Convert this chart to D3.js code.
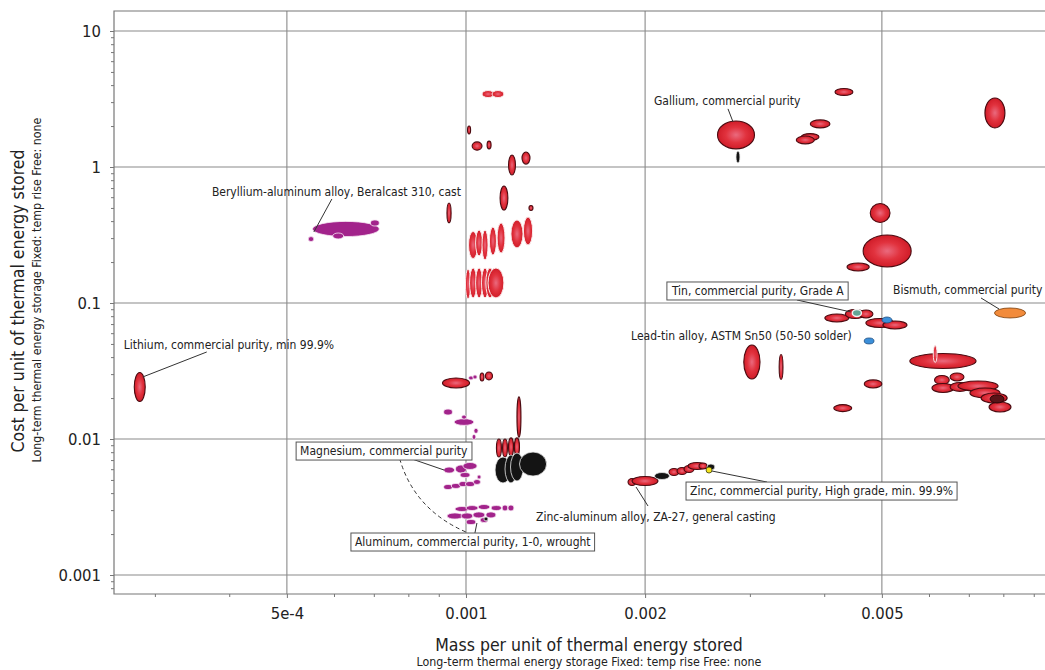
<!DOCTYPE html>
<html>
<head>
<meta charset="utf-8">
<script src="https://cdn.jsdelivr.net/npm/d3@7"></script>
<style>
  body { margin: 0; background: #fff; }
  svg { display: block; }
  text { font-family: "DejaVu Sans Condensed", "DejaVu Sans", sans-serif; fill: #222; }
</style>
</head>
<body>
<svg id="chart" width="1045" height="670"></svg>
<script>
// Each material: [mass low, mass high, cost low, cost high]
// mass in kg per unit of energy stored, cost per unit of energy stored

// Named materials that carry a label
const lithium   = [2.77e-4, 2.89e-4, 0.0189, 0.0308];
const beralcast = [5.52e-4, 7.15e-4, 0.308, 0.398];
const gallium   = [2.647e-3, 3.054e-3, 1.36, 2.18];
const tinGradeA = [4.46e-3, 4.62e-3, 0.0796, 0.0896];
const bismuth   = [7.73e-3, 8.72e-3, 0.0776, 0.0919];
const leadTin   = [4.67e-3, 4.85e-3, 0.0500, 0.0553];
const magnesium = [9.17e-4, 9.57e-4, 0.00562, 0.00622];
const aluminum  = [1.000e-3, 1.039e-3, 0.00235, 0.00256];
const za27      = [1.872e-3, 1.931e-3, 0.00455, 0.00512];
const zinc      = [2.532e-3, 2.591e-3, 0.00562, 0.00622];

// Non-ferrous metals drawn in red
const nonferrous = [
  lithium,
  [1.006e-3, 1.018e-3, 1.75, 2.00],
  [1.024e-3, 1.064e-3, 1.33, 1.53],
  [1.085e-3, 1.102e-3, 1.36, 1.55],
  [1.179e-3, 1.211e-3, 0.873, 1.225],
  [1.242e-3, 1.281e-3, 1.05, 1.29],
  [1.141e-3, 1.176e-3, 0.483, 0.725],
  [1.276e-3, 1.296e-3, 0.479, 0.521],
  [9.29e-4, 9.44e-4, 0.388, 0.544],
  [9.13e-4, 1.014e-3, 0.0237, 0.0281],
  [1.056e-3, 1.072e-3, 0.0267, 0.0306],
  [1.078e-3, 1.108e-3, 0.0272, 0.0311],
  [1.218e-3, 1.237e-3, 0.0103, 0.0204],
  [1.125e-3, 1.147e-3, 0.00737, 0.0100],
  [1.152e-3, 1.174e-3, 0.00737, 0.0100],
  [1.179e-3, 1.202e-3, 0.0075, 0.0102],
  [1.206e-3, 1.230e-3, 0.0075, 0.0102],
  za27,
  [1.901e-3, 2.102e-3, 0.00455, 0.00530],
  [2.194e-3, 2.280e-3, 0.00539, 0.00607],
  [2.263e-3, 2.352e-3, 0.00548, 0.00617],
  [2.325e-3, 2.417e-3, 0.00567, 0.00638],
  [2.361e-3, 2.532e-3, 0.00597, 0.00672],
  [2.464e-3, 2.541e-3, 0.00602, 0.00666],
  gallium,
  [4.17e-3, 4.47e-3, 3.36, 3.78],
  [3.79e-3, 4.09e-3, 1.94, 2.22],
  [3.66e-3, 3.92e-3, 1.57, 1.76],
  [3.59e-3, 3.85e-3, 1.48, 1.69],
  [7.45e-3, 8.05e-3, 1.94, 3.22],
  [4.78e-3, 5.16e-3, 0.391, 0.539],
  [4.65e-3, 5.60e-3, 0.184, 0.316],
  [4.37e-3, 4.76e-3, 0.172, 0.197],
  [4.01e-3, 4.40e-3, 0.0725, 0.0830],
  [4.34e-3, 4.68e-3, 0.0769, 0.0896],
  [4.58e-3, 4.83e-3, 0.0776, 0.0888],
  [4.70e-3, 5.24e-3, 0.0661, 0.0769],
  [5.02e-3, 5.51e-3, 0.0644, 0.0738],
  [5.57e-3, 7.20e-3, 0.0330, 0.0425],
  [2.93e-3, 3.12e-3, 0.0276, 0.0491],
  [3.36e-3, 3.41e-3, 0.0274, 0.0418],
  [4.67e-3, 5.00e-3, 0.0237, 0.0272],
  [4.15e-3, 4.45e-3, 0.0159, 0.0179],
  [6.13e-3, 6.49e-3, 0.0252, 0.0293],
  [6.51e-3, 6.87e-3, 0.0267, 0.0306],
  [6.07e-3, 6.61e-3, 0.0220, 0.0256],
  [6.51e-3, 7.03e-3, 0.0224, 0.0260],
  [6.71e-3, 7.84e-3, 0.0225, 0.0267],
  [7.03e-3, 7.90e-3, 0.0200, 0.0237],
  [7.34e-3, 8.12e-3, 0.0184, 0.0218],
  [7.57e-3, 8.24e-3, 0.0158, 0.0187]
];

// Grades of one alloy family, drawn in red with light outlines
const nonferrousGrades = [
  [1.064e-3, 1.115e-3, 3.24, 3.65],
  [1.106e-3, 1.158e-3, 3.24, 3.65],
  [1.010e-3, 1.046e-3, 0.212, 0.336],
  [1.038e-3, 1.066e-3, 0.222, 0.344],
  [1.064e-3, 1.089e-3, 0.207, 0.344],
  [1.095e-3, 1.125e-3, 0.225, 0.362],
  [1.128e-3, 1.163e-3, 0.233, 0.388],
  [1.190e-3, 1.247e-3, 0.254, 0.408],
  [1.249e-3, 1.294e-3, 0.267, 0.429],
  [9.98e-4, 1.018e-3, 0.107, 0.178],
  [1.014e-3, 1.042e-3, 0.109, 0.181],
  [1.038e-3, 1.066e-3, 0.109, 0.181],
  [1.062e-3, 1.091e-3, 0.109, 0.181],
  [1.080e-3, 1.115e-3, 0.109, 0.181],
  [1.089e-3, 1.158e-3, 0.109, 0.181],
  [6.10e-3, 6.19e-3, 0.0365, 0.0487]
];

// Light alloys (aluminium, magnesium, beryllium) drawn in purple
const lightAlloys = [
  beralcast,
  [6.91e-4, 7.15e-4, 0.368, 0.408],
  [5.97e-4, 6.23e-4, 0.296, 0.327],
  [5.43e-4, 5.55e-4, 0.283, 0.308],
  [1.010e-3, 1.029e-3, 0.0272, 0.0291],
  [1.027e-3, 1.044e-3, 0.0276, 0.0296],
  [9.17e-4, 9.49e-4, 0.0150, 0.0166],
  [9.55e-4, 1.031e-3, 0.0126, 0.0141],
  [9.83e-4, 1.002e-3, 0.0140, 0.0150],
  [1.031e-3, 1.048e-3, 0.0110, 0.0120],
  [1.024e-3, 1.039e-3, 0.00992, 0.0108],
  magnesium,
  [9.60e-4, 1.002e-3, 0.00562, 0.00644],
  [9.88e-4, 1.044e-3, 0.00597, 0.00672],
  [9.77e-4, 1.016e-3, 0.00521, 0.00567],
  [9.17e-4, 9.49e-4, 0.00425, 0.00463],
  [9.45e-4, 9.79e-4, 0.00433, 0.00471],
  [9.73e-4, 1.004e-3, 0.00447, 0.00487],
  [9.98e-4, 1.034e-3, 0.00447, 0.00487],
  [1.029e-3, 1.058e-3, 0.00463, 0.00504],
  [1.044e-3, 1.060e-3, 0.00508, 0.00544],
  [9.58e-4, 1.012e-3, 0.00293, 0.00319],
  [1.000e-3, 1.048e-3, 0.00298, 0.00324],
  [1.048e-3, 1.097e-3, 0.00303, 0.00330],
  [1.102e-3, 1.147e-3, 0.00298, 0.00324],
  [1.150e-3, 1.176e-3, 0.00296, 0.00327],
  [1.176e-3, 1.204e-3, 0.00296, 0.00327],
  [9.29e-4, 9.88e-4, 0.00258, 0.00286],
  [9.81e-4, 1.027e-3, 0.00258, 0.00286],
  [1.027e-3, 1.076e-3, 0.00263, 0.00291],
  [1.080e-3, 1.123e-3, 0.00263, 0.00291],
  aluminum,
  [1.056e-3, 1.089e-3, 0.00243, 0.00265]
];

// Dark-coloured group
const darkGroup = [
  [1.119e-3, 1.190e-3, 0.00475, 0.00737],
  [1.163e-3, 1.218e-3, 0.00475, 0.00763],
  [1.188e-3, 1.249e-3, 0.00491, 0.00789],
  [1.230e-3, 1.366e-3, 0.00534, 0.00802],
  [1.072e-3, 1.089e-3, 0.00250, 0.00267],
  [2.074e-3, 2.198e-3, 0.00504, 0.00567],
  [2.541e-3, 2.620e-3, 0.00592, 0.00655],
  [2.843e-3, 2.887e-3, 1.07, 1.31]
];
// Dark red grade inside the high-mass cluster
const darkRed = [[7.60e-3, 8.02e-3, 0.0184, 0.0211]];

// Individually coloured materials
const blueMaterials   = [[5.00e-3, 5.20e-3, 0.0713, 0.0789], leadTin];
const tealMaterials   = [tinGradeA];
const yellowMaterials = [zinc];
const orangeMaterials = [bismuth];

// Axis ticks
const xMajor = [5e-4, 0.001, 0.002, 0.005];
const xMajorLabels = ["5e-4", "0.001", "0.002", "0.005"];
const xMinor = [3e-4, 4e-4, 6e-4, 7e-4, 8e-4, 9e-4, 0.003, 0.004, 0.006, 0.007, 0.008, 0.009];
const yMajor = [0.001, 0.01, 0.1, 1, 10];
const yMajorLabels = ["0.001", "0.01", "0.1", "1", "10"];

// Labels: text, labelled material, text offset from its centre, leader line, framed or not
const annotations = [
  { text: "Gallium, commercial purity", on: gallium, dx: -82, dy: -30, line: [[-8, -26], [-3, -13]], box: false },
  { text: "Beryllium-aluminum alloy, Beralcast 310, cast", on: beralcast, dx: -134, dy: -33, line: [[-14, -30], [-32, 3]], box: false },
  { text: "Lithium, commercial purity, min 99.9%", on: lithium, dx: -16, dy: -38, line: [[67, -35], [3, -10]], box: false },
  { text: "Tin, commercial purity, Grade A", on: tinGradeA, dx: -185, dy: -18, line: [[-60, -13], [-6, -1]], box: true },
  { text: "Bismuth, commercial purity", on: bismuth, dx: -117, dy: -19, line: [[-29, -15], [-11, -4]], box: false },
  { text: "Lead-tin alloy, ASTM Sn50 (50-50 solder)", on: leadTin, dx: -238, dy: -1, line: null, box: false },
  { text: "Magnesium, commercial purity", on: magnesium, dx: -149, dy: -15, line: [[-37, -11], [-5, 0]], box: true },
  { text: "Aluminum, commercial purity, 1-0, wrought", on: aluminum, dx: -116, dy: 24, line: [[4, 11], [6, 1]], box: true },
  { text: "Zinc-aluminum alloy, ZA-27, general casting", on: za27, dx: -96, dy: 39, line: [[16, 24], [4, 5]], box: false },
  { text: "Zinc, commercial purity, High grade, min. 99.9%", on: zinc, dx: -19, dy: 25, line: [[58, 12], [3, 1]], box: true }
];

const svg = d3.select("#chart");
const plot = { left: 114, right: 1045, top: 11, bottom: 594 };

const x = d3.scaleLog().domain([2.561e-4, 9.40e-3]).range([plot.left, plot.right]);
const y = d3.scaleLog().domain([7.25e-4, 14.03]).range([plot.bottom, plot.top]);

const defs = svg.append("defs");
const redGrad = defs.append("radialGradient").attr("id", "redFill");
redGrad.append("stop").attr("offset", "0%").attr("stop-color", "#ea6a7e");
redGrad.append("stop").attr("offset", "55%").attr("stop-color", "#e1323e");
redGrad.append("stop").attr("offset", "100%").attr("stop-color", "#d01c28");
defs.append("clipPath").attr("id", "plotClip").append("rect")
  .attr("x", plot.left).attr("y", plot.top)
  .attr("width", plot.right - plot.left).attr("height", plot.bottom - plot.top);

// Gridlines
const grid = svg.append("g").attr("stroke", "#8a8a8a").attr("stroke-width", 1.1);
grid.selectAll(".gx").data(xMajor).join("line")
  .attr("x1", d => x(d)).attr("x2", d => x(d))
  .attr("y1", plot.top).attr("y2", plot.bottom);
grid.selectAll(".gy").data(yMajor).join("line")
  .attr("x1", plot.left).attr("x2", plot.right)
  .attr("y1", d => y(d)).attr("y2", d => y(d));

// Frame
svg.append("path")
  .attr("d", `M${plot.right + 2},${plot.top}H${plot.left}V${plot.bottom}H${plot.right + 2}`)
  .attr("fill", "none").attr("stroke", "#777").attr("stroke-width", 1.2);

// Axes
const xAxis = svg.append("g").attr("transform", `translate(0,${plot.bottom})`)
  .call(d3.axisBottom(x).tickValues(xMajor).tickFormat((d, i) => xMajorLabels[i]).tickSize(4).tickPadding(9));
const xAxisMinor = svg.append("g").attr("transform", `translate(0,${plot.bottom})`)
  .call(d3.axisBottom(x).tickValues(xMinor).tickFormat("").tickSize(3));

const yMinor = [];
yMajor.forEach(d => { for (let k = 2; k <= 9; k++) { const v = d * k; if (v <= y.domain()[1]) yMinor.push(v); } });
[8e-4, 9e-4].forEach(v => { if (v >= y.domain()[0]) yMinor.push(v); });

const yAxis = svg.append("g").attr("transform", `translate(${plot.left},0)`)
  .call(d3.axisLeft(y).tickValues(yMajor).tickFormat((d, i) => yMajorLabels[i]).tickSize(4).tickPadding(9));
const yAxisMinor = svg.append("g").attr("transform", `translate(${plot.left},0)`)
  .call(d3.axisLeft(y).tickValues(yMinor).tickFormat("").tickSize(3));

[xAxis, xAxisMinor, yAxis, yAxisMinor].forEach(g => {
  g.select(".domain").remove();
  g.selectAll(".tick line").attr("stroke", "#777");
  g.selectAll("text").attr("font-size", 16.5).attr("fill", "#1a1a1a")
    .attr("font-family", "'DejaVu Sans Condensed', 'DejaVu Sans', sans-serif");
});

// Material envelopes
const marks = svg.append("g").attr("clip-path", "url(#plotClip)");
function drawEllipses(data, fill, stroke, width) {
  marks.append("g").selectAll("ellipse").data(data).join("ellipse")
    .attr("cx", d => (x(d[0]) + x(d[1])) / 2)
    .attr("cy", d => (y(d[2]) + y(d[3])) / 2)
    .attr("rx", d => Math.abs(x(d[1]) - x(d[0])) / 2)
    .attr("ry", d => Math.abs(y(d[3]) - y(d[2])) / 2)
    .attr("fill", fill).attr("stroke", stroke).attr("stroke-width", width);
}
drawEllipses(lightAlloys, "#a2238b", "#f6e6f2", 0.8);
drawEllipses(nonferrous, "url(#redFill)", "#4a0a10", 1.1);
drawEllipses(nonferrousGrades, "url(#redFill)", "#fbe9ea", 1);
drawEllipses(darkRed, "#5a1418", "#2a0608", 1);
drawEllipses(darkGroup, "#141414", "#e8e8e8", 0.8);
drawEllipses(blueMaterials, "#3b8fd9", "#1f4e80", 0.8);
drawEllipses(tealMaterials, "#62a596", "#f2f2f2", 1.4);
drawEllipses(yellowMaterials, "#f3e41d", "#3a3a10", 0.8);
drawEllipses(orangeMaterials, "#f28b3b", "#7a3f0c", 0.8);

// Annotations
const centre = m => [(x(m[0]) + x(m[1])) / 2, (y(m[2]) + y(m[3])) / 2];
const ann = svg.append("g");

// dashed connector linking the magnesium label down to the aluminium group
{
  const [ax, ay] = centre(aluminum);
  const p0 = [ax - 73, ay - 70], c = [ax - 60, ay - 14], p1 = [ax - 5, ay + 10];
  ann.append("path")
    .attr("d", `M${p0[0]},${p0[1]}Q${c[0]},${c[1]} ${p1[0]},${p1[1]}`)
    .attr("fill", "none").attr("stroke", "#333").attr("stroke-width", 1)
    .attr("stroke-dasharray", "4,3");
}

annotations.forEach(a => {
  const [cx, cy] = centre(a.on);
  if (a.line) {
    ann.append("line")
      .attr("x1", cx + a.line[0][0]).attr("y1", cy + a.line[0][1])
      .attr("x2", cx + a.line[1][0]).attr("y2", cy + a.line[1][1])
      .attr("stroke", "#333").attr("stroke-width", 1);
  }
  const g = ann.append("g");
  const t = g.append("text")
    .attr("x", cx + a.dx).attr("y", cy + a.dy)
    .attr("font-size", 12).attr("fill", "#2a2a2a")
    .text(a.text);
  if (a.box) {
    const b = t.node().getBBox();
    g.insert("rect", "text")
      .attr("x", b.x - 4).attr("y", b.y - 2)
      .attr("width", b.width + 8).attr("height", b.height + 4)
      .attr("fill", "#fff").attr("stroke", "#555").attr("stroke-width", 1);
  }
});

// Axis titles
svg.append("text")
  .attr("transform", `translate(24,${301}) rotate(-90)`)
  .attr("text-anchor", "middle").attr("font-size", 17.5).attr("fill", "#1a1a1a")
  .text("Cost per unit of thermal energy stored");
svg.append("text")
  .attr("transform", `translate(41,${290}) rotate(-90)`)
  .attr("text-anchor", "middle").attr("font-size", 12.3).attr("fill", "#1a1a1a")
  .text("Long-term thermal energy storage  Fixed: temp rise  Free: none");
svg.append("text")
  .attr("x", 589).attr("y", 651)
  .attr("text-anchor", "middle").attr("font-size", 17.5).attr("fill", "#1a1a1a")
  .text("Mass per unit of thermal energy stored");
svg.append("text")
  .attr("x", 589).attr("y", 666)
  .attr("text-anchor", "middle").attr("font-size", 12.3).attr("fill", "#1a1a1a")
  .text("Long-term thermal energy storage  Fixed: temp rise  Free: none");
</script>
</body>
</html>
